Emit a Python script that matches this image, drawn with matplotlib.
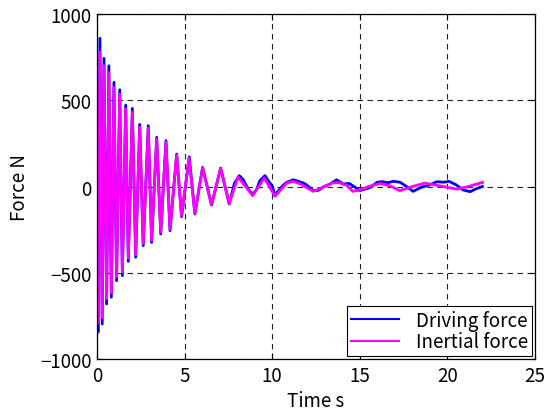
import matplotlib
matplotlib.use("Agg")
import matplotlib.pyplot as plt

plt.rcParams['font.family'] = ['Noto Sans CJK JP', 'DejaVu Sans']

# extrema / readings of the driving force (blue)
drive_t = [0.0, 0.06, 0.17, 0.30, 0.40, 0.55, 0.68, 0.82, 0.97, 1.12, 1.30, 1.45,
           1.64, 1.79, 2.02, 2.21, 2.44, 2.64, 2.93, 3.12, 3.41, 3.64, 3.94, 4.17,
           4.55, 4.83, 5.27, 5.59, 6.03, 6.54, 7.06, 7.55, 7.85, 8.12, 8.35, 8.50,
           8.70, 8.90, 9.10, 9.30, 9.59, 9.80, 10.0, 10.16, 10.4, 10.6, 10.83, 11.2,
           11.5, 11.8, 11.97, 12.35, 12.65, 12.96, 13.3, 13.68, 14.06, 14.4, 14.82,
           15.0, 15.3, 15.6, 16.0, 16.3, 16.6, 16.9, 17.3, 17.6, 18.05, 18.5, 19.0,
           19.4, 19.8, 20.1, 20.5, 20.9, 21.3, 21.6, 22.0]
drive_f = [0, -845, 859, -797, 743, -681, 700, -642, 604, -546, 561, -517,
           472, -434, 453, -410, 360, -343, 353, -324, 285, -275, 266, -256,
           188, -175, 172, -159, 111, -107, 107, -101, 20, 63, 40, 10,
           -25, -43, -20, 34, 63, 30, 5, -49, -20, 5, 24, 39,
           30, 20, 9, -24, -22, 0, 14, 39, 15, 18, -10,
           -24, -15, -5, 25, 28, 22, 30, 25, 5, -28, -5, 10,
           28, 25, 30, 10, -20, -30, -15, 0]

# extrema / readings of the inertial force (magenta)
inert_t = [0.0, 0.06, 0.17, 0.30, 0.40, 0.55, 0.68, 0.82, 0.97, 1.12, 1.30, 1.45,
           1.64, 1.79, 2.02, 2.21, 2.44, 2.64, 2.93, 3.12, 3.41, 3.64, 3.94, 4.17,
           4.55, 4.83, 5.25, 5.59, 6.03, 6.54, 7.06, 7.55, 8.05, 8.89, 9.55, 10.16,
           10.83, 11.2, 11.6, 12.35, 12.9, 13.4, 13.8, 14.27, 14.6, 15.0, 15.5, 16.15,
           16.7, 17.29, 18.0, 18.72, 19.5, 20.53, 21.2, 22.01]
inert_f = [0, -790, 780, -760, 700, -650, 660, -615, 575, -525, 535, -495,
           450, -415, 430, -395, 345, -330, 340, -312, 275, -265, 258, -248,
           182, -170, 165, -155, 108, -105, 105, -98, 55, -53, 50, -57,
           20, 30, 15, -28, -5, 20, 23, 6, -28, -20, 0, 18,
           5, -24, 0, 20, 5, -15, 0, 24]

x_ticks = [0, 5, 10, 15, 20, 25]
y_ticks = [-1000, -500, 0, 500, 1000]

fig = plt.figure(figsize=(5.54, 4.14), dpi=100)
ax = fig.add_axes([0.175, 0.1304, 0.7906, 0.8333])

ax.plot(drive_t, drive_f, color='#0000ff', lw=2.0, label='Driving force',
        solid_joinstyle='round')
ax.plot(inert_t, inert_f, color='#ff00ff', lw=2.0, label='Inertial force',
        solid_joinstyle='round')

ax.set_xlim(0, 25)
ax.set_ylim(-1000, 1000)
ax.set_xticks(x_ticks)
ax.set_yticks(y_ticks)
ax.tick_params(direction='in', top=True, right=True, labelsize=13.5, length=4,
               width=0.8, pad=4)
ax.grid(True, color='#222222', linestyle=(0, (5, 4)), linewidth=0.8)
for s in ax.spines.values():
    s.set_linewidth(0.9)

ax.set_xlabel('Time s', fontsize=13.5, labelpad=3)
ax.set_ylabel('Force N', fontsize=13.5, labelpad=7)

leg = ax.legend(loc='lower right', fontsize=13.5, fancybox=False, framealpha=1,
                edgecolor='black', handlelength=2.6, borderpad=0.2,
                labelspacing=0.05, borderaxespad=0.15, handletextpad=0.9)
leg.get_frame().set_linewidth(0.8)
for h in leg.get_lines():
    h.set_linewidth(1.5)

fig.savefig('out.png', dpi=100)
